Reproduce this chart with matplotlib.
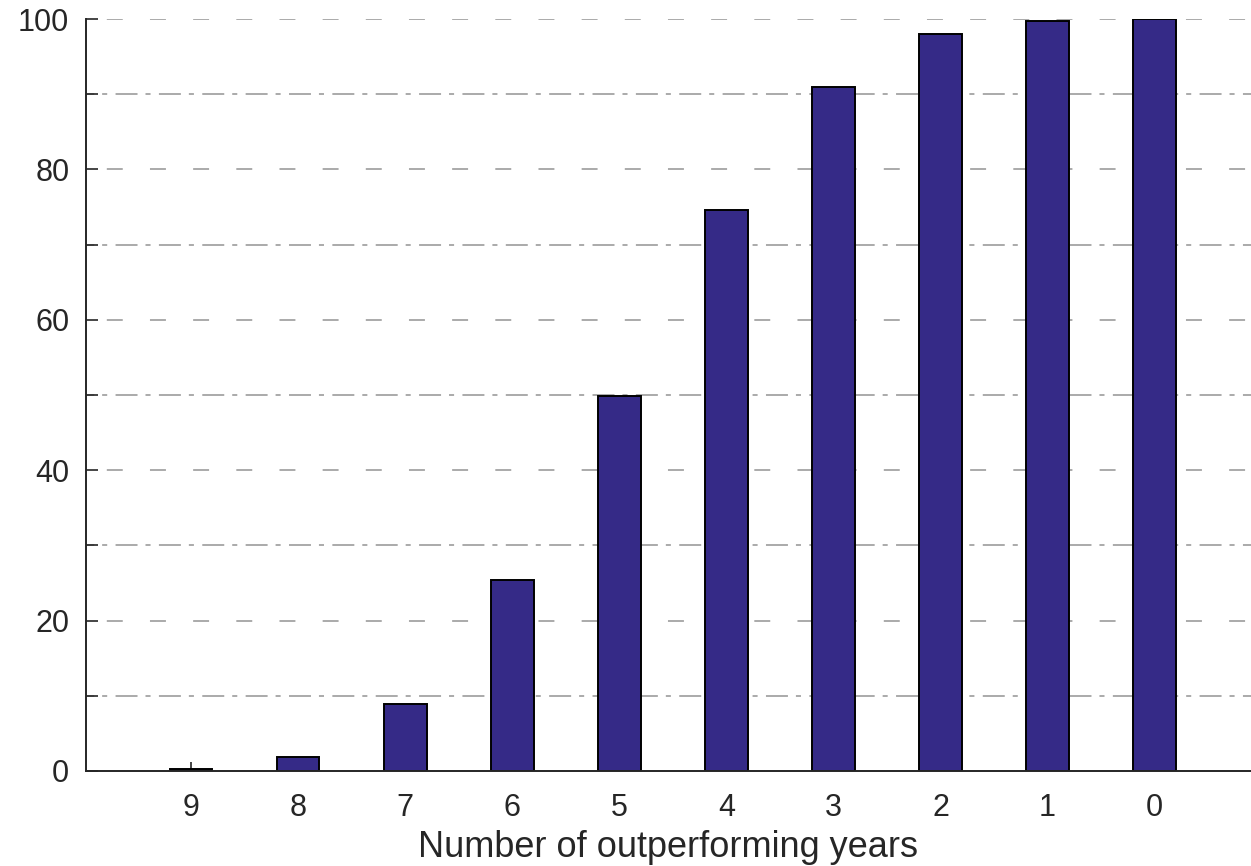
import matplotlib
matplotlib.use("Agg")
import matplotlib.pyplot as plt
import numpy as np

categories = ["9", "8", "7", "6", "5", "4", "3", "2", "1", "0"]
values = [0.2, 1.9, 8.9, 25.4, 49.9, 74.6, 91.0, 98.0, 99.7, 100.0]
yticks = [0, 20, 40, 60, 80, 100]
minor_yticks = [10, 30, 50, 70, 90]

plt.rcParams['font.family'] = ['Liberation Sans', 'DejaVu Sans']

fig = plt.figure(figsize=(12.51, 8.66), dpi=100)
ax = fig.add_axes([86/1251, 95/866, 1 - 86/1251, (771-19)/866])

x = np.arange(len(categories))
ax.bar(x, values, width=0.4, color='#352a87', edgecolor='black', linewidth=1.4, zorder=3)

ax.set_xlim(-0.98, 9.9)
ax.set_ylim(0, 100)
ax.set_xticks(x)
ax.set_xticklabels(categories)
ax.set_yticks(yticks)
ax.set_yticks(minor_yticks, minor=True)

glw = 1.4
for y in yticks[1:]:
    ax.axhline(y, color='#aaaaaa', lw=glw, linestyle=(11.5, (8.2, 14.0)), zorder=1)
for y in minor_yticks:
    ax.axhline(y, color='#aaaaaa', lw=glw, linestyle=(7.1, (11.3, 4.1, 2.6, 4.3)), zorder=1)

for s in ['top', 'right']:
    ax.spines[s].set_visible(False)
for s in ['left', 'bottom']:
    ax.spines[s].set_linewidth(1.4)
    ax.spines[s].set_color('#262626')
    ax.spines[s].set_zorder(4)

ax.tick_params(axis='x', which='both', direction='in', length=6.5, width=1.2,
               colors='#262626', labelsize=22, pad=16)
ax.tick_params(axis='y', which='both', direction='in', length=8.5, width=1.2,
               colors='#262626', labelsize=22, pad=12)

ax.set_xlabel("Number of outperforming years", fontsize=26, color='#262626', labelpad=5)

fig.savefig("out.png", dpi=100)
